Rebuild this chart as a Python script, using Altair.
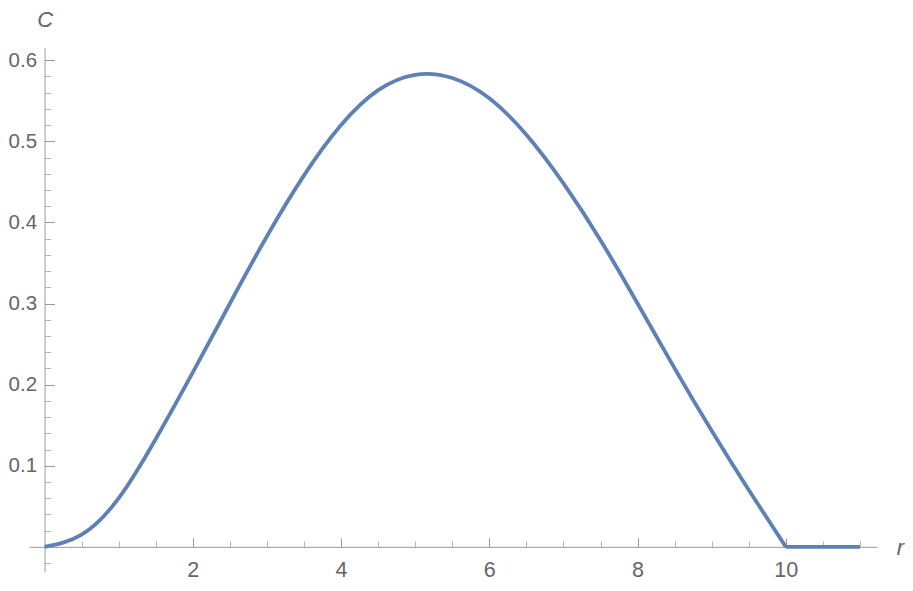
import altair as alt
import pandas as pd

# data
r_curve = [0, 0.5, 1, 1.5, 2, 2.5, 3, 3.5, 4, 4.5, 5, 5.5, 6, 6.5, 7, 7.5, 8, 8.5, 9, 9.5, 10]
c_curve = [0, 0.015, 0.060, 0.133, 0.215, 0.300, 0.383, 0.458, 0.520, 0.563, 0.582,
           0.578, 0.553, 0.508, 0.448, 0.378, 0.300, 0.220, 0.143, 0.070, 0]
r_tail = [10, 11]
c_tail = [0, 0]

x_label_values = [2, 4, 6, 8, 10]
y_label_values = [0.1, 0.2, 0.3, 0.4, 0.5, 0.6]
x_tick_values = [0.5, 1, 1.5, 2, 2.5, 3, 3.5, 4, 4.5, 5, 5.5, 6, 6.5, 7, 7.5, 8, 8.5, 9, 9.5, 10, 10.5, 11]
y_tick_values = [-0.02, 0.02, 0.04, 0.06, 0.08, 0.1, 0.12, 0.14, 0.16, 0.18, 0.2, 0.22, 0.24, 0.26,
                 0.28, 0.3, 0.32, 0.34, 0.36, 0.38, 0.4, 0.42, 0.44, 0.46, 0.48, 0.5, 0.52, 0.54,
                 0.56, 0.58, 0.6]

curve_df = pd.DataFrame({"r": r_curve, "C": c_curve})
tail_df = pd.DataFrame({"r": r_tail, "C": c_tail})

W, H = 848, 524
xdom = [-0.21, 11.23]
ydom = [-0.031, 0.615]
x0px = (0 - xdom[0]) / (xdom[1] - xdom[0]) * W          # px of r=0 from left edge
y0px = (0 - ydom[0]) / (ydom[1] - ydom[0]) * H          # px of C=0 from bottom edge

xscale = alt.Scale(domain=xdom, nice=False, zero=False)
yscale = alt.Scale(domain=ydom, nice=False, zero=False)

FONT = "Liberation Sans"
AX = "#9a9a9a"
LBL = "#666666"
LINE = "#5E81B5"

x_lab_axis = alt.Axis(orient="bottom", offset=-y0px, values=x_label_values, ticks=False,
                      domain=True, domainColor=AX, domainWidth=1, grid=False,
                      labelFont=FONT, labelFontSize=21.5, labelColor=LBL, labelPadding=13,
                      format="d", title="r", titleFont=FONT, titleFontSize=22,
                      titleFontStyle="italic", titleFontWeight="normal", titleColor=LBL,
                      titleX=871, titleY=8, titleAlign="center", titleBaseline="alphabetic")
y_lab_axis = alt.Axis(orient="left", offset=-x0px, values=y_label_values, ticks=False,
                      domain=True, domainColor=AX, domainWidth=1, grid=False,
                      labelFont=FONT, labelFontSize=20.5, labelColor=LBL, labelPadding=8,
                      format=".1f", title="C", titleFont=FONT, titleFontSize=22,
                      titleFontStyle="italic", titleFontWeight="normal", titleColor=LBL,
                      titleAngle=0, titleX=0, titleY=-22, titleAlign="center",
                      titleBaseline="alphabetic")

x_tick_axis = alt.Axis(orient="top", offset=-(H - y0px), values=x_tick_values, labels=False,
                       domain=False, grid=False, title=None,
                       tickSize={"condition": {"test": "datum.value % 2 === 0", "value": 9}, "value": 6},
                       tickColor={"condition": {"test": "datum.value % 2 === 0", "value": AX}, "value": "#b5b5b5"})
y_tick_axis = alt.Axis(orient="right", offset=-(W - x0px), values=y_tick_values, labels=False,
                       domain=False, grid=False, title=None,
                       tickSize={"condition": {"test": "abs(datum.value*10 - round(datum.value*10)) < 0.001", "value": 10}, "value": 6},
                       tickColor={"condition": {"test": "abs(datum.value*10 - round(datum.value*10)) < 0.001", "value": AX}, "value": "#b5b5b5"})

ticks = alt.Chart(curve_df).mark_line(strokeOpacity=0).encode(
    x=alt.X("r:Q", scale=xscale, axis=x_tick_axis),
    y=alt.Y("C:Q", scale=yscale, axis=y_tick_axis),
)

curve = alt.Chart(curve_df).mark_line(color=LINE, strokeWidth=3.8, interpolate="natural").encode(
    x=alt.X("r:Q", scale=xscale, axis=x_lab_axis),
    y=alt.Y("C:Q", scale=yscale, axis=y_lab_axis),
)

tail = alt.Chart(tail_df).mark_line(color=LINE, strokeWidth=3.8).encode(
    x=alt.X("r:Q", scale=xscale),
    y=alt.Y("C:Q", scale=yscale),
)

chart = alt.layer(ticks, alt.layer(curve, tail)).resolve_axis(x="independent", y="independent").properties(
    width=W, height=H,
    autosize=alt.AutoSizeParams(type="none"),
    padding={"left": 21, "top": 40, "right": 28, "bottom": 10},
).configure_view(stroke=None)

chart.save("out.html", embed_options={"renderer": "svg", "actions": False})
